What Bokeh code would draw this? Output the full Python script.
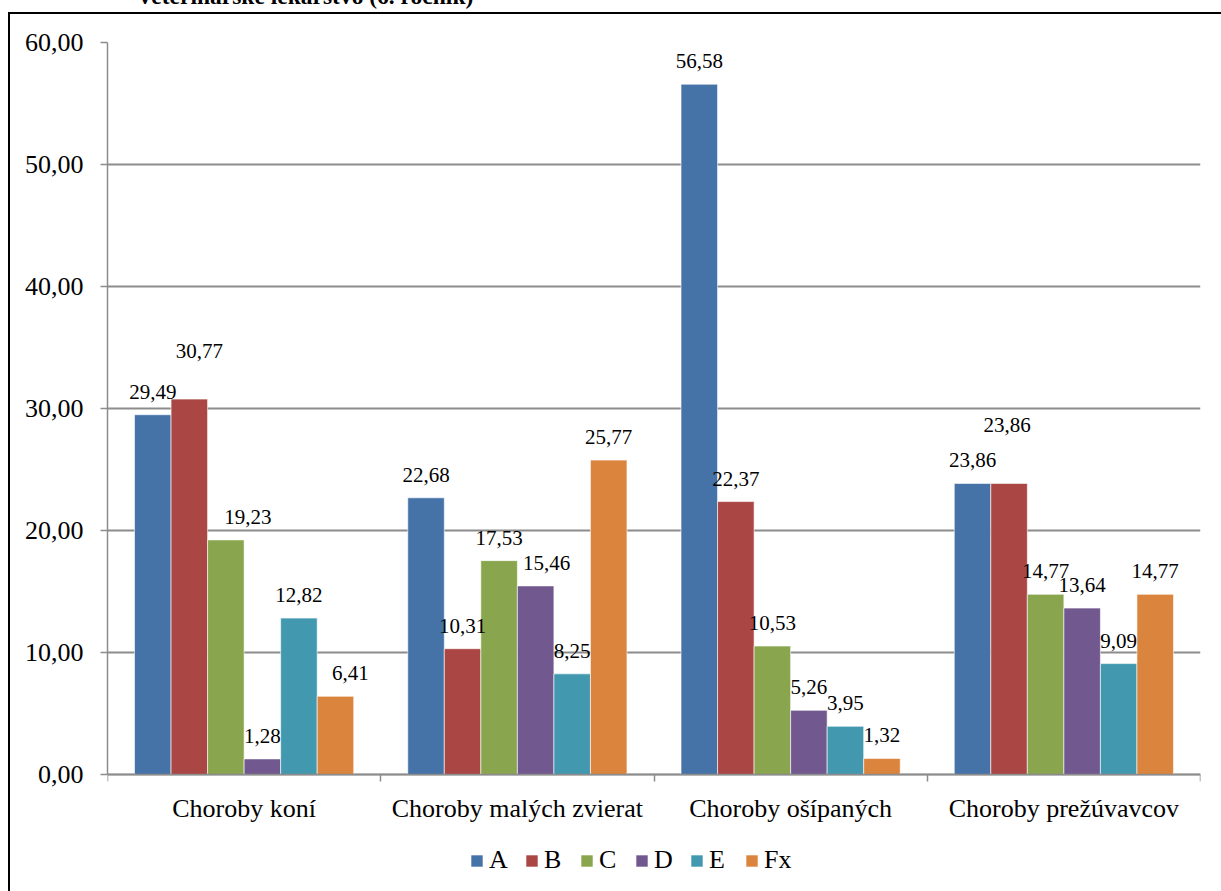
from bokeh.plotting import figure
from bokeh.models import (ColumnDataSource, Range1d, FixedTicker, LinearAxis, LabelSet,
                          Legend, LegendItem)
from bokeh.embed import file_html
from bokeh.resources import INLINE

# ---------------- data ----------------
categories = ["Choroby koní", "Choroby malých zvierat", "Choroby ošípaných", "Choroby prežúvavcov"]
series = ["A", "B", "C", "D", "E", "Fx"]
A = [29.49, 22.68, 56.58, 23.86]
B = [30.77, 10.31, 22.37, 23.86]
C = [19.23, 17.53, 10.53, 14.77]
D = [1.28, 15.46, 5.26, 13.64]
E = [12.82, 8.25, 3.95, 9.09]
Fx = [6.41, 25.77, 1.32, 14.77]
y_ticks = [0, 10, 20, 30, 40, 50, 60]
title_text = "Veterinárske lekárstvo (6. ročník)"

# label nudges (px) to mimic the original label placement
label_dx = {"B": [10, 0, 0, -2], "C": [22, 0, 0, 0], "D": [0, 11, 0, 0], "Fx": [15, 0, 0, 0]}
label_dy = {"B": [25, 0, 0, 35]}

colors = ["#4572A7", "#AA4643", "#89A54E", "#71588F", "#4198AF", "#DB843D"]
values = [A, B, C, D, E, Fx]
FONT = "Liberation Serif"
GRID = "#8c8c8c"

SHIFT = 60            # figure shifted up so the title is cut by the page edge, as in the original
Y0_PX, Y60_PX = 774, 42   # page rows of the 0 and 60 gridlines
W, H = 1221, 891 + SHIFT
px_per_unit = (Y0_PX - Y60_PX) / (y_ticks[-1] - y_ticks[0])
y_start = -(891 - Y0_PX) / px_per_unit   # frame runs down to the page bottom (room for the legend)

p = figure(width=W, height=H, output_backend="svg", toolbar_location=None,
           x_range=Range1d(0, 4), y_range=Range1d(y_start, y_ticks[-1]),
           min_border_left=107, min_border_right=21,
           min_border_top=Y60_PX + SHIFT, min_border_bottom=0,
           x_axis_location=None, y_axis_location=None)
p.styles = {
    "position": "absolute", "top": f"-{SHIFT}px", "left": "0px",
    "background": (f"linear-gradient(#000,#000) 8px {12 + SHIFT}px / 2px 100% no-repeat, "
                   f"linear-gradient(#000,#000) 8px {12 + SHIFT}px / 100% 2px no-repeat"),
}
p.outline_line_color = None
p.background_fill_color = "white"
p.border_fill_alpha = 0

# title (only its lower part is visible)
p.title.text = title_text
p.title.align = "left"
p.title.offset = 29
p.title.vertical_align = "middle"
p.title.standoff = 66
p.title.text_font = FONT
p.title.text_font_size = "23.5px"
p.title.text_font_style = "bold"
p.title.text_color = "black"

# y axis
yax = LinearAxis(ticker=FixedTicker(ticks=y_ticks), bounds=(y_ticks[0], y_ticks[-1]),
                 major_label_overrides={t: f"{t:.2f}".replace(".", ",") for t in y_ticks})
yax.axis_line_color = GRID
yax.axis_line_width = 1.5
yax.major_tick_line_color = GRID
yax.major_tick_line_width = 1.5
yax.major_tick_out = 7
yax.major_tick_in = 0
yax.minor_tick_line_color = None
yax.major_label_standoff = 17
yax.major_label_text_font = FONT
yax.major_label_text_font_size = "26px"
yax.major_label_text_color = "black"
p.add_layout(yax, "left")

# x axis at y = 0: labels at category centres, tick marks at category boundaries
centers = [i + 0.5 for i in range(len(categories))]
bounds = list(range(len(categories) + 1))
xax = LinearAxis(ticker=FixedTicker(ticks=centers, minor_ticks=bounds), fixed_location=0,
                 major_label_overrides={c: n for c, n in zip(centers, categories)})
xax.axis_line_color = GRID
xax.axis_line_width = 1.5
xax.major_tick_line_color = None
xax.major_tick_out = 7
xax.major_tick_in = 0
xax.minor_tick_line_color = GRID
xax.minor_tick_line_width = 1.5
xax.minor_tick_out = 7
xax.minor_tick_in = 0
xax.major_label_standoff = 12
xax.major_label_text_font = FONT
xax.major_label_text_font_size = "26px"
xax.major_label_text_color = "black"
p.add_layout(xax, "below")

p.ygrid.ticker = FixedTicker(ticks=y_ticks)
p.xgrid.visible = False
p.ygrid.grid_line_color = GRID
p.ygrid.grid_line_width = 2

bw = 0.1337
items = []
for k, (name, vals, col) in enumerate(zip(series, values, colors)):
    xs = [i + 0.5 + (k - (len(series) - 1) / 2) * bw for i in range(len(categories))]
    src = ColumnDataSource(dict(
        x=xs, top=vals,
        txt=[f"{v:.2f}".replace(".", ",") for v in vals],
        dx=label_dx.get(name, [0] * len(categories)),
        dy=[23 + d for d in label_dy.get(name, [0] * len(categories))],
    ))
    r = p.vbar(x="x", top="top", width=bw, bottom=0, source=src,
               fill_color=col, line_color="white", line_alpha=0.6, line_width=1)
    items.append(LegendItem(label=name, renderers=[r]))
    p.add_layout(LabelSet(x="x", y="top", text="txt", source=src,
                          x_offset="dx", y_offset="dy",
                          text_align="center", text_baseline="middle",
                          text_font=FONT, text_font_size="21px", text_color="black"))

legend = Legend(items=items, orientation="horizontal", location=(362, 16))
legend.glyph_width = 15
legend.glyph_height = 15
legend.label_standoff = 5
legend.spacing = 15
legend.padding = 0
legend.margin = 0
legend.border_line_color = None
legend.background_fill_alpha = 0
legend.label_text_font = FONT
legend.label_text_font_size = "26px"
legend.label_text_color = "black"
p.add_layout(legend, "center")

open("out.html", "w").write(file_html(p, INLINE))
